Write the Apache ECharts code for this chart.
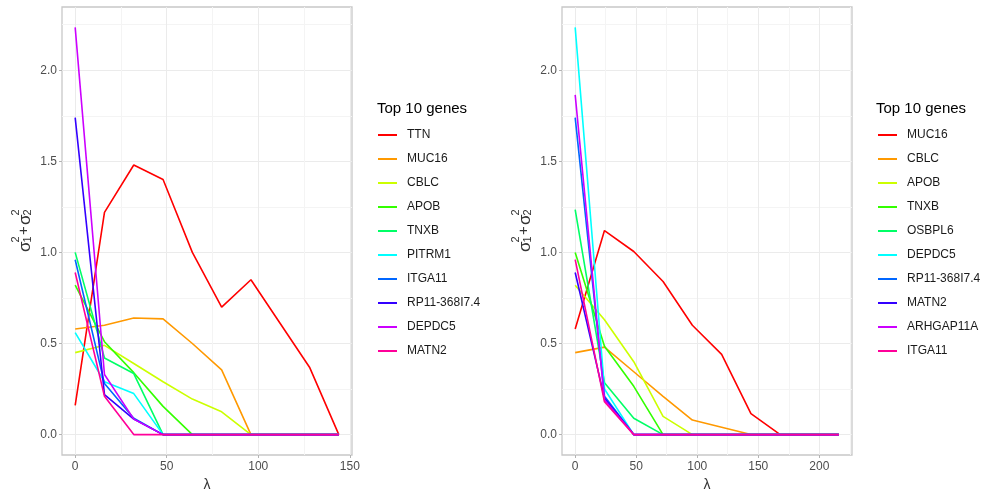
<!DOCTYPE html>
<html>
<head>
<meta charset="utf-8">
<script src="https://cdn.jsdelivr.net/npm/echarts@6/dist/echarts.min.js"></script>
<style>
  html, body { margin: 0; padding: 0; background: #fff; }
  #chart { width: 987px; height: 493px; }
</style>
</head>
<body>
<div id="chart"></div>
<script>
// lambda grids of the two fits
const lambdaLeft = [0, 16, 32, 48, 64, 80, 96, 112, 128, 144]
const lambdaRight = [0, 24, 48, 72, 96, 120, 144, 168, 192, 216]

// left panel genes
const leftGenes = ['TTN', 'MUC16', 'CBLC', 'APOB', 'TNXB', 'PITRM1', 'ITGA11', 'RP11-368I7.4', 'DEPDC5', 'MATN2']
const leftTTN = [0.16, 1.22, 1.48, 1.40, 1.00, 0.70, 0.85, 0.61, 0.37, 0]
const leftMUC16 = [0.58, 0.60, 0.64, 0.635, 0.50, 0.355, 0, 0, 0, 0]
const leftCBLC = [0.45, 0.49, 0.39, 0.29, 0.195, 0.125, 0, 0, 0, 0]
const leftAPOB = [0.82, 0.51, 0.34, 0.155, 0, 0, 0, 0, 0, 0]
const leftTNXB = [1.00, 0.42, 0.335, 0, 0, 0, 0, 0, 0, 0]
const leftPITRM1 = [0.56, 0.29, 0.225, 0, 0, 0, 0, 0, 0, 0]
const leftITGA11 = [0.96, 0.28, 0.09, 0, 0, 0, 0, 0, 0, 0]
const leftRP11 = [1.74, 0.22, 0.085, 0, 0, 0, 0, 0, 0, 0]
const leftDEPDC5 = [2.235, 0.33, 0.085, 0, 0, 0, 0, 0, 0, 0]
const leftMATN2 = [0.89, 0.21, 0, 0, 0, 0, 0, 0, 0, 0]

// right panel genes
const rightGenes = ['MUC16', 'CBLC', 'APOB', 'TNXB', 'OSBPL6', 'DEPDC5', 'RP11-368I7.4', 'MATN2', 'ARHGAP11A', 'ITGA11']
const rightMUC16 = [0.58, 1.12, 1.005, 0.84, 0.60, 0.44, 0.115, 0, 0, 0]
const rightCBLC = [0.45, 0.48, 0.345, 0.21, 0.08, 0.04, 0, 0, 0, 0]
const rightAPOB = [0.82, 0.63, 0.40, 0.10, 0, 0, 0, 0, 0, 0]
const rightTNXB = [1.00, 0.485, 0.265, 0, 0, 0, 0, 0, 0, 0]
const rightOSBPL6 = [1.235, 0.285, 0.09, 0, 0, 0, 0, 0, 0, 0]
const rightDEPDC5 = [2.235, 0.25, 0, 0, 0, 0, 0, 0, 0, 0]
const rightRP11 = [1.74, 0.21, 0, 0, 0, 0, 0, 0, 0, 0]
const rightMATN2 = [0.89, 0.20, 0, 0, 0, 0, 0, 0, 0, 0]
const rightARHGAP11A = [1.865, 0.19, 0, 0, 0, 0, 0, 0, 0, 0]
const rightITGA11 = [0.96, 0.18, 0, 0, 0, 0, 0, 0, 0, 0]

const leftValues = [leftTTN, leftMUC16, leftCBLC, leftAPOB, leftTNXB, leftPITRM1, leftITGA11, leftRP11, leftDEPDC5, leftMATN2]
const rightValues = [rightMUC16, rightCBLC, rightAPOB, rightTNXB, rightOSBPL6, rightDEPDC5, rightRP11, rightMATN2, rightARHGAP11A, rightITGA11]

// tick labels
const xTicksLeft = [0, 50, 100, 150]
const xMinorLeft = [25, 75, 125]
const xTicksRight = [0, 50, 100, 150, 200]
const xMinorRight = [25, 75, 125, 175, 225]
const yTicks = [0, 0.5, 1.0, 1.5, 2.0]
const yMinor = [0.25, 0.75, 1.25, 1.75, 2.25]

// R rainbow(10)
const palette = ['#FF0000', '#FF9900', '#CCFF00', '#33FF00', '#00FF66', '#00FFFF', '#0066FF', '#3300FF', '#CC00FF', '#FF0099']

const FONT = 'Liberation Sans, Arial, sans-serif'
const chart = echarts.init(document.getElementById('chart'))

function majorX(grid, min, max, ticks) {
  return {
    gridIndex: grid, type: 'value', min: min, max: max,
    name: 'λ', nameLocation: 'middle', nameGap: 22,
    nameTextStyle: { fontFamily: FONT, fontSize: 14, color: '#333' },
    axisLine: { show: false, onZero: false },
    axisTick: { show: true, length: 3, customValues: ticks, lineStyle: { color: '#B3B3B3' } },
    axisLabel: { customValues: ticks, margin: 6, fontFamily: FONT, fontSize: 12, color: '#4D4D4D' },
    splitLine: { show: true, lineStyle: { color: '#EBEBEB', width: 1 } }
  }
}
function minorAxis(grid, min, max, ticks) {
  return {
    gridIndex: grid, type: 'value', min: min, max: max,
    axisLine: { show: false, onZero: false },
    axisTick: { show: false, customValues: ticks },
    axisLabel: { show: false, customValues: ticks },
    splitLine: { show: true, lineStyle: { color: '#F4F4F4', width: 1 } }
  }
}
function majorY(grid) {
  return {
    gridIndex: grid, type: 'value', min: -0.112, max: 2.347,
    axisLine: { show: false, onZero: false },
    axisTick: { show: true, length: 3, customValues: yTicks, lineStyle: { color: '#B3B3B3' } },
    axisLabel: {
      customValues: yTicks, margin: 5, fontFamily: FONT, fontSize: 12, color: '#4D4D4D',
      formatter: v => v.toFixed(1)
    },
    splitLine: { show: true, lineStyle: { color: '#EBEBEB', width: 1 } }
  }
}

const series = []
leftGenes.forEach((g, i) => {
  series.push({
    name: 'L:' + g, type: 'line', xAxisIndex: 0, yAxisIndex: 0,
    showSymbol: false, symbol: 'none',
    lineStyle: { width: 1.6, color: palette[i] }, itemStyle: { color: palette[i] },
    data: lambdaLeft.map((x, k) => [x, leftValues[i][k]])
  })
})
rightGenes.forEach((g, i) => {
  series.push({
    name: 'R:' + g, type: 'line', xAxisIndex: 2, yAxisIndex: 2,
    showSymbol: false, symbol: 'none',
    lineStyle: { width: 1.6, color: palette[i] }, itemStyle: { color: palette[i] },
    data: lambdaRight.map((x, k) => [x, rightValues[i][k]])
  })
})

function legendAt(left, names) {
  return {
    data: names, orient: 'vertical', left: left, top: 128, padding: 0,
    icon: 'rect', itemWidth: 19, itemHeight: 2, itemGap: 10,
    selectedMode: false,
    formatter: n => n.slice(2),
    textStyle: { fontFamily: FONT, fontSize: 12, color: '#1A1A1A', lineHeight: 14, padding: [0, 0, 0, 5] }
  }
}

// stacked sigma label for the y axis
function sigmaPart(text, x, y, size) {
  return { type: 'text', x: x, y: y, style: { text: text, font: size + 'px ' + FONT, fill: '#333', align: 'left', verticalAlign: 'middle' } }
}

const titleStyle = { fontFamily: FONT, fontSize: 15, fontWeight: 'normal', color: '#000', lineHeight: 16 }

const option = {
  animation: false,
  backgroundColor: '#fff',
  title: [
    { text: 'Top 10 genes', left: 377, top: 101, padding: 0, textStyle: titleStyle },
    { text: 'Top 10 genes', left: 876, top: 101, padding: 0, textStyle: titleStyle }
  ],
  grid: [
    { left: 62, top: 7, width: 290, height: 448, outerBoundsMode: 'none', show: true, borderColor: '#C8C8C8', borderWidth: 1.3, backgroundColor: '#fff' },
    { left: 562, top: 7, width: 290, height: 448, outerBoundsMode: 'none', show: true, borderColor: '#C8C8C8', borderWidth: 1.3, backgroundColor: '#fff' }
  ],
  xAxis: [
    majorX(0, -7.2, 151.2, xTicksLeft),
    minorAxis(0, -7.2, 151.2, xMinorLeft),
    majorX(1, -10.8, 226.8, xTicksRight),
    minorAxis(1, -10.8, 226.8, xMinorRight)
  ],
  yAxis: [
    majorY(0),
    minorAxis(0, -0.112, 2.347, yMinor),
    majorY(1),
    minorAxis(1, -0.112, 2.347, yMinor)
  ],
  legend: [
    legendAt(378, leftGenes.map(g => 'L:' + g)),
    legendAt(878, rightGenes.map(g => 'R:' + g))
  ],
  graphic: [0, 1].map(p => ({
    type: 'group', x: 24 + p * 500, y: 230, rotation: Math.PI / 2,
    children: [
      sigmaPart('σ', -22, 1, 17),
      sigmaPart('2', -12.5, -8, 11),
      sigmaPart('1', -12.5, 4, 11),
      sigmaPart('+', -5, 0, 15),
      sigmaPart('σ', 5, 1, 17),
      sigmaPart('2', 14.5, -8, 11),
      sigmaPart('2', 14.5, 4, 11)
    ]
  })),
  series: series
}

chart.setOption(option)
</script>
</body>
</html>
